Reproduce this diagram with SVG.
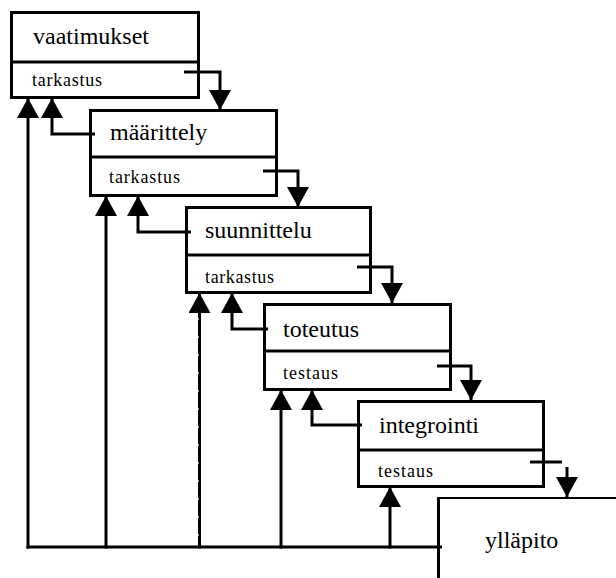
<svg xmlns="http://www.w3.org/2000/svg" width="616" height="578" viewBox="0 0 616 578">
  <style>
    .box { fill: #fff; stroke: #000; stroke-width: 3; }
    .div { stroke: #000; stroke-width: 3; fill: none; }
    .line { stroke: #000; stroke-width: 3; fill: none; stroke-linejoin: miter; }
    .title { font-size: 24px; fill: #000; }
    .sub { font-size: 18px; fill: #000; }
  </style>
  <defs>
    <marker id="ah" viewBox="0 0 20 22" refX="20" refY="11" markerWidth="20" markerHeight="22" markerUnits="userSpaceOnUse" orient="auto">
      <path d="M0,0 L20,11 L0,22 Z" fill="#000"/>
    </marker>
  </defs>
  <rect width="616" height="578" fill="#fff"/>

  <!-- phase boxes -->
  <g id="vaatimukset" font-family="Liberation Serif, DejaVu Serif, serif">
    <rect class="box" x="11.5" y="12.5" width="187" height="85"/>
    <line class="div" x1="11.5" y1="62" x2="198.5" y2="62"/>
    <text class="title" x="33" y="44">vaatimukset</text>
    <text class="sub" x="32" y="86" textLength="70" lengthAdjust="spacing">tarkastus</text>
  </g>
  <g id="maarittely" font-family="Liberation Serif, DejaVu Serif, serif">
    <rect class="box" x="90.5" y="110.5" width="186" height="85"/>
    <line class="div" x1="90.5" y1="157" x2="276.5" y2="157"/>
    <text class="title" x="110" y="140">määrittely</text>
    <text class="sub" x="109" y="183" textLength="71" lengthAdjust="spacing">tarkastus</text>
  </g>
  <g id="suunnittelu" font-family="Liberation Serif, DejaVu Serif, serif">
    <rect class="box" x="186.5" y="207.5" width="184" height="85"/>
    <line class="div" x1="186.5" y1="255" x2="370.5" y2="255"/>
    <text class="title" x="205" y="238">suunnittelu</text>
    <text class="sub" x="205" y="283" textLength="69" lengthAdjust="spacing">tarkastus</text>
  </g>
  <g id="toteutus" font-family="Liberation Serif, DejaVu Serif, serif">
    <rect class="box" x="264.5" y="304.5" width="186" height="85"/>
    <line class="div" x1="264.5" y1="351" x2="450.5" y2="351"/>
    <text class="title" x="283" y="337">toteutus</text>
    <text class="sub" x="283" y="379" textLength="55" lengthAdjust="spacing">testaus</text>
  </g>
  <g id="integrointi" font-family="Liberation Serif, DejaVu Serif, serif">
    <rect class="box" x="358.5" y="401.5" width="185" height="85"/>
    <line class="div" x1="358.5" y1="450" x2="543.5" y2="450"/>
    <text class="title" x="379" y="433">integrointi</text>
    <text class="sub" x="378" y="477" textLength="55" lengthAdjust="spacing">testaus</text>
  </g>
  <g id="yllapito" font-family="Liberation Serif, DejaVu Serif, serif">
    <line stroke="#000" stroke-width="2" x1="437" y1="498" x2="616" y2="498"/>
    <line stroke="#000" stroke-width="3" x1="438.5" y1="497" x2="438.5" y2="578"/>
    <text class="title" x="485" y="548">ylläpito</text>
  </g>

  <!-- connectors -->
  <g id="connectors">
    <!-- forward flow: review row down to the next phase -->
    <path class="line" d="M184,72 H220 V110" marker-end="url(#ah)"/>
    <path class="line" d="M263,171 H298 V207" marker-end="url(#ah)"/>
    <path class="line" d="M357,267 H392 V303" marker-end="url(#ah)"/>
    <path class="line" d="M437,366 H471 V400" marker-end="url(#ah)"/>
    <path class="line" d="M530,462 H562"/>
    <path class="line" d="M567,467 V497" marker-end="url(#ah)"/>

    <!-- feedback: each phase back to the previous one -->
    <path class="line" d="M95,134 H52 V98" marker-end="url(#ah)"/>
    <path class="line" d="M191,232 H138 V196" marker-end="url(#ah)"/>
    <path class="line" d="M268,329 H232 V293" marker-end="url(#ah)"/>
    <path class="line" d="M362,425 H312 V390" marker-end="url(#ah)"/>

    <!-- maintenance feedback to every phase -->
    <path class="line" d="M26.5,547 H442"/>
    <path class="line" d="M28,548.5 V98" marker-end="url(#ah)"/>
    <path class="line" d="M106,548.5 V196" marker-end="url(#ah)"/>
    <path class="line" d="M199.5,548.5 V293" marker-end="url(#ah)"/>
    <line x1="198.3" y1="318" x2="198.3" y2="545" stroke="#fff" stroke-width="0.8" stroke-dasharray="2 16"/>
    <path class="line" d="M281,548.5 V390" marker-end="url(#ah)"/>
    <path class="line" d="M390,548.5 V487" marker-end="url(#ah)"/>
  </g>
</svg>
